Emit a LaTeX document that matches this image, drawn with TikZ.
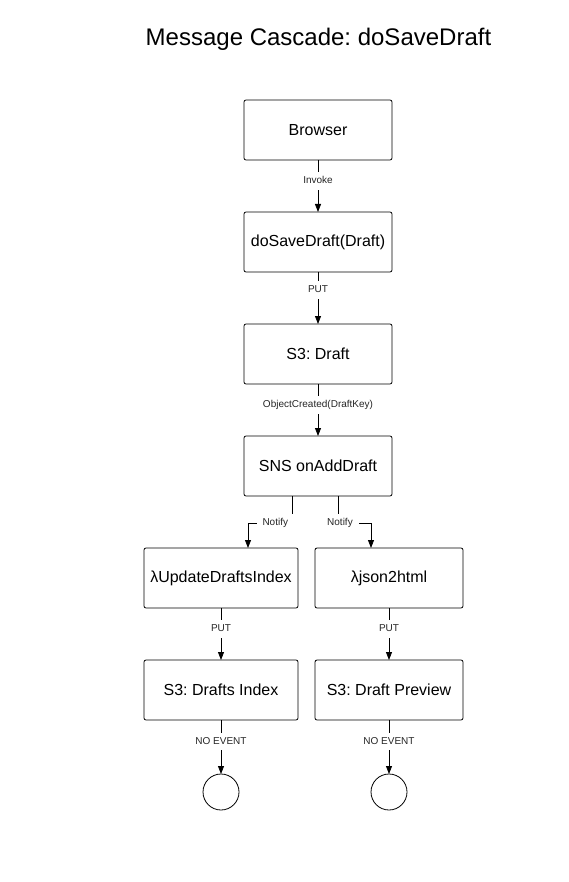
\documentclass[tikz,border=0pt]{standalone}
\usepackage{fontspec}
\setmainfont{Liberation Sans}
\usetikzlibrary{arrows.meta}
\usetikzlibrary{positioning}
\frenchspacing

\begin{document}
\begin{tikzpicture}[x=1pt, y=-1pt, node distance=52pt]

\tikzstyle{stage}=[rectangle, rounded corners=2pt, draw=black, line width=0.8pt,
  minimum width=148pt, minimum height=60pt, inner sep=0pt, outer sep=0pt,
  font=\fontsize{16}{19}\selectfont]
\tikzstyle{sink}=[circle, draw=black, line width=0.8pt,
  minimum size=36pt, inner sep=0pt, outer sep=0pt]
\tikzstyle{msg}=[fill=white, text=black!85, font=\fontsize{10}{12}\selectfont,
  inner xsep=6pt, inner ysep=4pt, text height=7.5pt, text depth=2pt]

\tikzstyle{arrmsg}=[-{Triangle[width=6pt,length=8pt]}, line width=0.8pt, draw=black]

\useasboundingbox (0,0) rectangle (569,882);

\node [font=\fontsize{24}{29}\selectfont] (title) at (318.5,39)
  {Message Cascade: doSaveDraft};

\node [stage] (browser) at (318,130) {Browser};
\node [stage, below=of browser] (dosave) {doSaveDraft(Draft)};
\draw [arrmsg] (browser) -- node[msg, pos=0.4] {Invoke} (dosave);
\node [stage, below=of dosave] (draft) {S3: Draft};
\draw [arrmsg] (dosave) -- node[msg, pos=0.35] {PUT} (draft);
\node [stage, below=of draft] (sns) {SNS onAddDraft};
\draw [arrmsg] (draft) -- node[msg, pos=0.4] {ObjectCreated(DraftKey)} (sns);

\node [stage, below=of sns, xshift=-97pt, minimum width=154pt] (updindex)
  {λUpdateDraftsIndex};
\node [stage, below=of sns, xshift=71pt] (json) {λjson2html};
\draw [arrmsg] ([xshift=-26pt]sns.south)
  |- node[msg, pos=0.69] {Notify} ([xshift=27pt, yshift=25pt]updindex.north)
  -- ([xshift=27pt]updindex.north);
\draw [arrmsg] ([xshift=20pt]sns.south)
  |- node[msg, pos=0.53] {Notify} ([xshift=-18pt, yshift=25pt]json.north)
  -- ([xshift=-18pt]json.north);

\node [stage, below=of updindex, minimum width=154pt] (index) {S3: Drafts Index};
\draw [arrmsg] (updindex) -- node[msg, pos=0.4] {PUT} (index);
\node [stage, below=of json] (preview) {S3: Draft Preview};
\draw [arrmsg] (json) -- node[msg, pos=0.4] {PUT} (preview);

\node [sink, below=54pt of index] (indexend) {};
\draw [arrmsg] (index) -- node[msg, pos=0.4] {NO EVENT} (indexend);
\node [sink, below=54pt of preview] (previewend) {};
\draw [arrmsg] (preview) -- node[msg, pos=0.4] {NO EVENT} (previewend);

\end{tikzpicture}
\end{document}
